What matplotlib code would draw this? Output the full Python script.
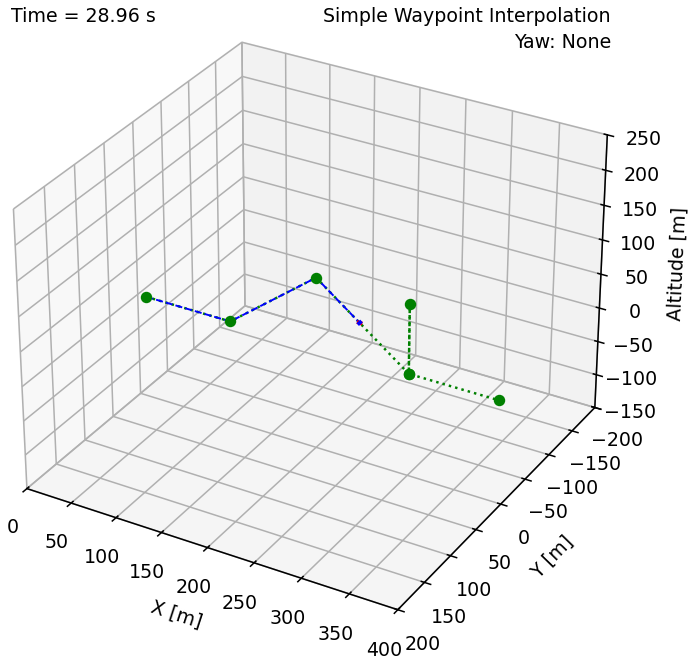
import numpy as np
import matplotlib
matplotlib.use("Agg")
import matplotlib.pyplot as plt

# Waypoints (x, y, z) in metres, in the order they are visited
wp_x = [10, 105, 200, 300, 300, 300, 395]
wp_y = [0, 0, 0, 0, 0, 0, 0]
wp_z = [0, 0, 100, 0, 100, 0, 0]

# Flown trajectory up to the current time
traj_x = [10, 105, 200, 247]
traj_y = [0, 0, 0, 0]
traj_z = [0, 0, 100, 53]

sim_time = 28.96
traj_name = "Simple Waypoint Interpolation"
yaw_name = "Yaw: None"

x_ticks = np.arange(0, 401, 50)
y_ticks = np.arange(-200, 201, 50)
z_ticks = np.arange(-150, 251, 50)

DPI = 137
fig = plt.figure(figsize=(695 / DPI, 657 / DPI), dpi=DPI)
ax = fig.add_axes([-0.033, 0.008, 0.95, 1.006], projection="3d")

# desired path and waypoints
ax.plot(wp_x, wp_y, wp_z, ":", lw=1.3, color="green")
ax.scatter(wp_x, wp_y, wp_z, color="green", alpha=1, marker="o", s=25, depthshade=False)

# flown path
ax.plot(traj_x, traj_y, traj_z, "--", lw=1, color="blue")

# quadcopter body at the current position
qx, qy, qz = traj_x[-1], traj_y[-1], traj_z[-1]
arm = 1.0
ax.plot([qx - arm, qx + arm], [qy, qy], [qz, qz], lw=2, color="red")
ax.plot([qx, qx], [qy - arm, qy + arm], [qz, qz], lw=2, color="blue")

ax.set_xlim(0, 400)
ax.set_ylim(200, -200)
ax.set_zlim(-150, 250)
ax.set_xticks(x_ticks)
ax.set_yticks(y_ticks)
ax.set_zticks(z_ticks)
ax.set_xlabel("X [m]")
ax.set_ylabel("Y [m]")
ax.set_zlabel("Altitude [m]")

fig.text(11 / 695, 1 - 17 / 657, "Time = %.2f s" % sim_time, ha="left", va="center")
fig.text(611 / 695, 1 - 17 / 657, traj_name, ha="right", va="center")
fig.text(611 / 695, 1 - 43 / 657, yaw_name, ha="right", va="center")

fig.savefig("out.png", dpi=DPI)
